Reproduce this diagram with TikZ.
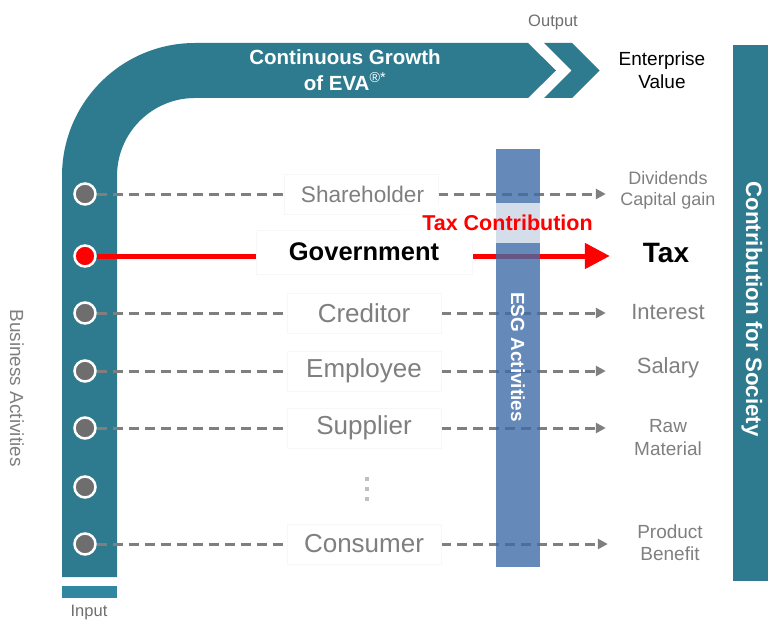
\documentclass[tikz,border=0pt]{standalone}
\usepackage{fontspec}
\setmainfont{Liberation Sans}
\usetikzlibrary{arrows.meta}
\definecolor{teal1}{HTML}{2E7B8F}
\definecolor{teal2}{HTML}{3186A0}
\definecolor{esgc}{RGB}{63,108,168}
\definecolor{lgray}{HTML}{7F7F7F}
\definecolor{dgray}{HTML}{6E6E6E}
\definecolor{dotc}{HTML}{C0C0C0}
\definecolor{redc}{HTML}{FF0000}
\definecolor{faint}{HTML}{F7F7F7}
\pgfdeclarelayer{back}
\pgfdeclarelayer{lines}
\pgfdeclarelayer{esg}
\pgfsetlayers{back,lines,esg,main}
\begin{document}
\begin{tikzpicture}[x=1pt,y=-1pt,
  dotn/.style={circle,minimum size=21pt,inner sep=0pt,fill=dgray,draw=white,line width=2.5pt},
  lbl/.style={fill=white,draw=faint,minimum width=154pt,minimum height=40pt,text=lgray,inner sep=0pt,font=\fontsize{26}{30}\selectfont},
  rlbl/.style={text=lgray,minimum width=124pt,align=center,inner sep=0pt},
  dashln/.style={draw=lgray,line width=3pt,dash pattern=on 10pt off 6pt},
  dasharr/.style={dashln,-{Triangle[length=10pt,width=10pt]}},
  wbold/.style={text=white,font=\bfseries\fontsize{#1}{#1}\selectfont},
  wbold/.default=20]
\useasboundingbox (0,0) rectangle (771,623);

% ---------- teal shapes ----------
\begin{pgfonlayer}{back}
\fill[teal1] (62,577) -- (62,176) .. controls (62,102.5) and (121.5,43) .. (195,43)
  -- (528,43) -- (556,70.5) -- (528,98) -- (195,98)
  .. controls (151.9,98) and (117,132.9) .. (117,176) -- (117,577) -- cycle;
\fill[teal1] (544,43) -- (572,43) -- (599.5,70.5) -- (572,98) -- (544,98) -- (571.5,70.5) -- cycle;
\fill[teal2] (62,586) rectangle (117,598);
\fill[teal1] (733,45) rectangle (768,581);
\end{pgfonlayer}

\begin{pgfonlayer}{esg}
\fill[esgc,opacity=0.8] (496,149) rectangle (540,567);
\end{pgfonlayer}

% ---------- texts on teal ----------
\node[text=white,align=center,font=\bfseries\fontsize{20.5}{26}\selectfont] (growth) at (345,70)
  {Continuous Growth\\of EVA{\mdseries\textsuperscript{®*}}};
\node[text=black,align=center,font=\fontsize{19}{23}\selectfont] (ev) at (662,70) {Enterprise\\Value};
\node[text=dgray,font=\fontsize{16.5}{18}\selectfont] (output) at (553,22) {Output};
\node[text=dgray,font=\fontsize{16.5}{18}\selectfont] (input) at (89,613) {Input};
\node[wbold=22.3,rotate=-90] (society) at (752,309) {Contribution for Society};
\node[wbold=19,rotate=-90] (esgt) at (518,357) {ESG Activities};
\node[text=lgray,rotate=-90,font=\fontsize{19}{22}\selectfont] (busact) at (17,388) {Business Activities};

% ---------- circles ----------
\node[dotn] (c1) at (85,194) {};
\node[dotn,fill=redc] (c2) at (85,256) {};
\node[dotn] (c3) at (85,313) {};
\node[dotn] (c4) at (85,371) {};
\node[dotn] (c5) at (85,428) {};
\node[dotn] (c6) at (85,487) {};
\node[dotn] (c7) at (85,544) {};

% ---------- middle labels ----------
\node[lbl,font=\fontsize{22.6}{26}\selectfont,xshift=-3pt] (sh) at (364,194) {\hspace*{3pt}Shareholder};
\node[fill=white,draw=faint,minimum width=216pt,minimum height=44pt,inner sep=0pt,
      font=\bfseries\fontsize{25.5}{30}\selectfont] (gov) at (364,252) {Government};
\node[lbl] (cr) at (364,313) {Creditor};
\node[lbl] (em) at (364,371) {Employee};
\node[lbl] (su) at (364,428) {Supplier};
\node[lbl] (co) at (364,544) {Consumer};
\fill[dotc] (365,477) rectangle (369,481);
\fill[dotc] (365,487) rectangle (369,491);
\fill[dotc] (365,497) rectangle (369,501);

\node[fill=white,fill opacity=0.72,text opacity=1,minimum width=215pt,minimum height=40pt,inner sep=0pt,
      text=redc,font=\bfseries\fontsize{21.5}{24}\selectfont] (taxc) at (507.5,223) {Tax Contribution};

% ---------- right labels ----------
\node[rlbl,font=\fontsize{18}{21}\selectfont] (dv) at (668,190) {Dividends\\Capital gain};
\node[minimum width=112pt,inner sep=0pt,font=\bfseries\fontsize{28}{30}\selectfont] (tax) at (666,253) {Tax};
\node[rlbl,font=\fontsize{22}{26}\selectfont] (in) at (668,312) {Interest};
\node[rlbl,font=\fontsize{22}{26}\selectfont] (sa) at (668,368) {Salary};
\node[rlbl,font=\fontsize{19}{23}\selectfont] (rm) at (668,438) {Raw\\Material};
\node[rlbl,font=\fontsize{19}{22}\selectfont] (pb) at (670,543) {Product\\Benefit};

% ---------- connectors ----------
\begin{pgfonlayer}{lines}
\draw[dashln] (c1) -- (c1 -| sh.west);
\draw[dashln] (c3) -- (cr);
\draw[dashln] (c4) -- (em);
\draw[dashln] (c5) -- (su);
\draw[dashln] (c7) -- (co);
\draw[dasharr] (sh.east) -- (sh.east -| dv.west);
\draw[dasharr] (cr.east) -- (cr.east -| in.west);
\draw[dasharr] (em.east) -- (em.east -| sa.west);
\draw[dasharr] (su.east) -- (su.east -| rm.west);
\draw[dasharr] (co.east) -- (co.east -| pb.west);
\draw[redc,line width=5pt,-{Triangle[length=25pt,width=25pt]}] (c2) -- (c2 -| tax.west);
\end{pgfonlayer}
\end{tikzpicture}
\end{document}
